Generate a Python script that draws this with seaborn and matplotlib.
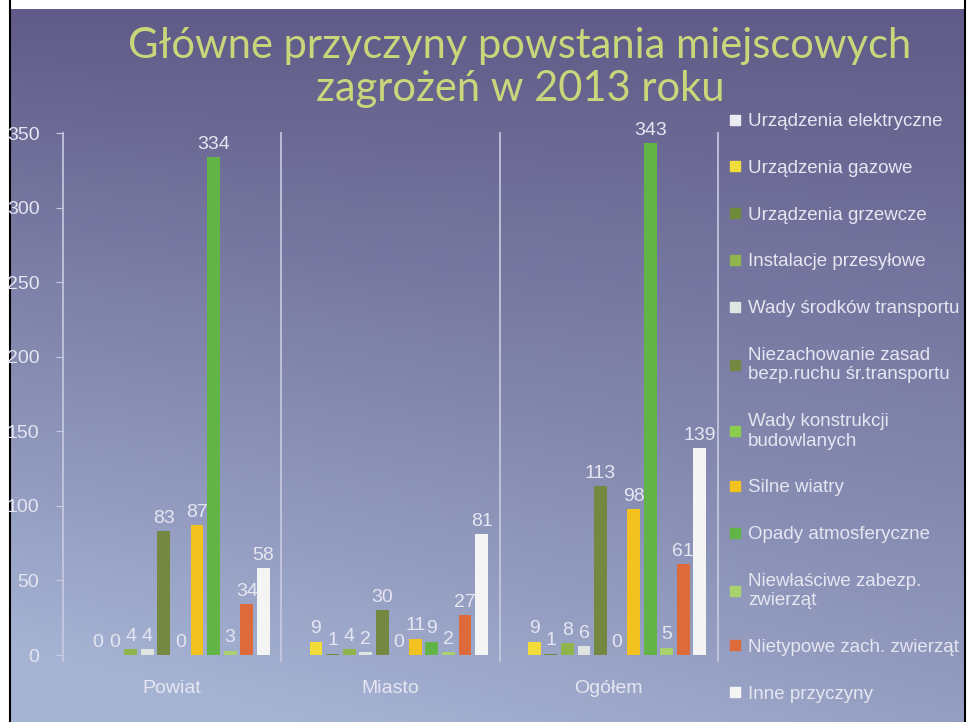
import numpy as np
import pandas as pd
import matplotlib
matplotlib.use("Agg")
import matplotlib.pyplot as plt
from matplotlib.lines import Line2D
import seaborn as sns


groups = ["Powiat", "Miasto", "Ogółem"]

causes = [
    "Urządzenia elektryczne",
    "Urządzenia gazowe",
    "Urządzenia grzewcze",
    "Instalacje przesyłowe",
    "Wady środków transportu",
    "Niezachowanie zasad\nbezp.ruchu śr.transportu",
    "Wady konstrukcji\nbudowlanych",
    "Silne wiatry",
    "Opady atmosferyczne",
    "Niewłaściwe zabezp.\nzwierząt",
    "Nietypowe zach. zwierząt",
    "Inne przyczyny",
]

# one value per cause, in the order above (no data for the first cause)
powiat = [np.nan, 0, 0, 4, 4, 83, 0, 87, 334, 3, 34, 58]
miasto = [np.nan, 9, 1, 4, 2, 30, 0, 11, 9, 2, 27, 81]
ogolem = [np.nan, 9, 1, 8, 6, 113, 0, 98, 343, 5, 61, 139]

colors = [
    "#ecebf4", "#f2dc3a", "#6f8a3a", "#8fb44c", "#dfe6e0", "#758842",
    "#8ccc4e", "#f4c21e", "#62b446", "#a9d26e", "#dc6a3a", "#f4f4f4",
]

y_ticks = [0, 50, 100, 150, 200, 250, 300, 350]


df = pd.DataFrame({
    "group": np.repeat(groups, len(causes)),
    "cause": causes * len(groups),
    "value": powiat + miasto + ogolem,
})

txt = "#e6e6f2"
plt.rcParams["font.family"] = ["Liberation Sans", "DejaVu Sans"]

fig = plt.figure(figsize=(9.72, 7.22), dpi=100, facecolor="white")

# background of the photographed slide
bg = fig.add_axes([0, 0, 1, 1], zorder=-5)
yy, xx = np.mgrid[0:1:200j, 0:1:200j]
t = np.clip(0.75 * yy + 0.25 * yy * (1 - xx) + 0.1 * np.clip(yy - xx * 0.9, 0, 1), 0, 1)
top = np.array([0x60, 0x5b, 0x88]) / 255
bot = np.array([0xa6, 0xb4, 0xd4]) / 255
grad = top[None, None, :] * (1 - t[..., None]) + bot[None, None, :] * t[..., None]
bg.imshow(grad, extent=(10, 965, 722, 9), aspect="auto")
bg.set_xlim(0, 972)
bg.set_ylim(722, 0)
bg.axvline(10, color="black", lw=1.5)
bg.axvline(965, color="black", lw=1.5)
bg.axis("off")

ax = fig.add_axes([63 / 972, 67 / 722, 655 / 972, 522 / 722])
ax.set_facecolor("none")

sns.barplot(
    data=df,
    x="group",
    y="value",
    hue="cause",
    hue_order=causes,
    order=groups,
    palette=dict(zip(causes, colors)),
    saturation=1,
    width=0.91,
    gap=0.22,
    errorbar=None,
    legend=False,
    ax=ax,
)

for c in ax.containers:
    ax.bar_label(c, fmt="%d", padding=3, fontsize=14, color=txt)

ax.set_xlim(-0.5, 2.5)
ax.set_ylim(0, 350)
ax.set_yticks(y_ticks)

for x in [-0.5, 0.5, 1.5, 2.5]:
    ax.axvline(x, ymin=-0.012, ymax=1, color="#c9cbe2", lw=1.2, clip_on=False)
ax.axhline(0, color="#c9cbe2", lw=0.8, alpha=0.6)

for s in ax.spines.values():
    s.set_visible(False)

ax.tick_params(axis="y", length=5, color="#c9cbe2", labelsize=14,
               labelcolor=txt, pad=12)
ax.tick_params(axis="x", length=0, labelsize=14, labelcolor=txt, pad=18)
ax.set_xlabel("")
ax.set_ylabel("")

fig.text(0.535, 1 - 46 / 722, "Główne przyczyny powstania miejscowych",
         ha="center", va="center", fontsize=30, color="#c9d67a", family="Lato")
fig.text(0.535, 1 - 89 / 722, "zagrożeń w 2013 roku",
         ha="center", va="center", fontsize=30, color="#c9d67a", family="Lato")

handles = [
    Line2D([], [], marker="s", linestyle="", color=c, markersize=7)
    for c in colors
]
fig.legend(
    handles,
    causes,
    loc="upper left",
    bbox_to_anchor=(729 / 972, 1 - 113 / 722),
    frameon=False,
    fontsize=13.5,
    labelcolor=txt,
    handlelength=0.6,
    handletextpad=0.4,
    labelspacing=1.58,
    borderaxespad=0,
    borderpad=0,
)

fig.savefig("out.png", dpi=100, facecolor=fig.get_facecolor())
